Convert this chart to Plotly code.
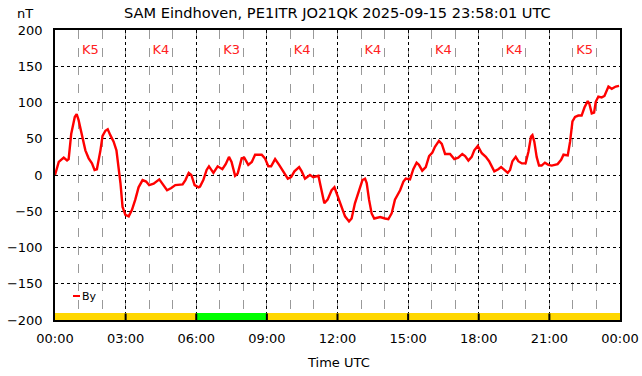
import plotly.graph_objects as go

# Time (hours UTC) and By (nT)
hours = [0.0, 0.16, 0.37, 0.51, 0.58, 0.69, 0.84, 0.92, 1.0, 1.15, 1.29, 1.43, 1.57, 1.68, 1.78, 1.93,
         2.02, 2.14, 2.24, 2.35, 2.49, 2.61, 2.7, 2.78, 2.87, 2.99, 3.13, 3.27, 3.41, 3.55, 3.72, 3.87,
         4.0, 4.19, 4.43, 4.59, 4.76, 4.94, 5.11, 5.42, 5.54, 5.68, 5.79, 5.93, 6.1, 6.16, 6.3, 6.44,
         6.54, 6.73, 6.91, 7.11, 7.25, 7.39, 7.5, 7.65, 7.76, 7.93, 8.04, 8.21, 8.36, 8.5, 8.78, 8.92,
         9.06, 9.18, 9.35, 9.52, 9.7, 9.89, 10.03, 10.17, 10.37, 10.48, 10.62, 10.83, 10.97, 11.19, 11.3,
         11.44, 11.58, 11.75, 11.87, 12.04, 12.18, 12.32, 12.49, 12.6, 12.74, 12.91, 13.06, 13.17, 13.24,
         13.34, 13.45, 13.56, 13.81, 14.02, 14.16, 14.3, 14.44, 14.66, 14.8, 14.9, 15.08, 15.22, 15.36,
         15.46, 15.6, 15.75, 15.89, 16.03, 16.14, 16.31, 16.43, 16.57, 16.78, 16.96, 17.13, 17.3, 17.42,
         17.56, 17.7, 17.81, 17.96, 18.13, 18.3, 18.44, 18.55, 18.66, 18.83, 18.95, 19.09, 19.23, 19.33,
         19.43, 19.57, 19.68, 19.83, 19.99, 20.11, 20.22, 20.28, 20.36, 20.46, 20.56, 20.67, 20.81, 20.96,
         21.1, 21.35, 21.5, 21.6, 21.78, 21.88, 21.98, 22.09, 22.23, 22.37, 22.49, 22.63, 22.7, 22.8, 22.9,
         22.97, 23.08, 23.22, 23.34, 23.51, 23.65, 23.82, 23.96]
by_nt = [0, 18, 24, 20, 22, 57, 80, 84, 76, 53, 34, 23, 16, 7, 8, 34,
         54, 61, 63, 55, 46, 34, 11, -11, -44, -55, -57, -48, -34, -17, -7, -9,
         -14, -12, -6, -14, -21, -18, -14, -13, -7, 3, 0, -14, -17, -16, -7, 7,
         12, 3, 12, 8, 15, 25, 18, -1, 2, 23, 24, 14, 18, 28, 28, 23,
         12, 12, 22, 14, 5, -5, -3, 5, 11, 5, -5, 0, -3, -1, -18,
         -39, -34, -21, -17, -32, -47, -57, -64, -60, -39, -21, -7, -5, -11,
         -34, -53, -60, -58, -60, -61, -53, -34, -21, -9, -5, -6, 8, 17,
         14, 6, 11, 26, 31, 39, 47, 43, 29, 29, 22, 24, 29, 26,
         20, 25, 34, 40, 30, 25, 19, 11, 5, 8, 11, 7, 3, 7,
         19, 25, 19, 16, 16, 32, 53, 55, 46, 25, 13, 13, 17, 14,
         13, 15, 21, 28, 27, 46, 74, 80, 82, 82, 93, 102, 98, 85, 86,
         101, 108, 107, 109, 122, 119, 122, 123]

# K-index per 3-hour block
k_centers = [1.5, 4.5, 7.5, 10.5, 13.5, 16.5, 19.5, 22.5]
k_values = [5, 4, 3, 4, 4, 4, 4, 5]
k_colors = ["#FFD700" if k >= 4 else "#00FF00" for k in k_values]

x_tickvals = [0, 3, 6, 9, 12, 15, 18, 21, 24]
x_ticktext = ["00:00", "03:00", "06:00", "09:00", "12:00", "15:00", "18:00", "21:00", "00:00"]

FONT = "DejaVu Sans"
W, H = 642, 376
L, R, T, B = 55, 22, 30, 56
pw = W - L - R

fig = go.Figure()

# K-index bar along the bottom
fig.add_trace(go.Bar(x=k_centers, y=[9] * len(k_values), base=-200, width=3,
                     marker=dict(color=k_colors, line=dict(width=0)),
                     showlegend=False, hoverinfo="skip"))

# K labels
fig.add_trace(go.Scatter(x=k_centers, y=[172] * len(k_values), mode="text",
                         text=[f"K{k}" for k in k_values],
                         textfont=dict(family=FONT, size=13, color="#FF2020"),
                         showlegend=False, hoverinfo="skip"))

# By line
fig.add_trace(go.Scatter(x=hours, y=by_nt, mode="lines", name="By",
                         line=dict(color="#FF0000", width=2.4), showlegend=False))

shapes = []
for xv in x_tickvals[1:-1]:
    shapes.append(dict(type="line", xref="x", yref="y", x0=xv, x1=xv, y0=-200, y1=-191,
                       line=dict(color="black", width=2), layer="above"))
# legend sample line
shapes.append(dict(type="line", xref="paper", yref="paper",
                   x0=(73 - L) / pw, x1=(80 - L) / pw, y0=(320 - 296) / 290, y1=(320 - 296) / 290,
                   line=dict(color="#FF0000", width=2)))

fig.update_layout(
    width=W, height=H,
    margin=dict(l=L, r=R, t=T, b=B, autoexpand=False),
    paper_bgcolor="white", plot_bgcolor="white",
    font=dict(family=FONT, size=13, color="black"),
    shapes=shapes,
    bargap=0,
    annotations=[
        dict(text="SAM Eindhoven, PE1ITR JO21QK 2025-09-15 23:58:01 UTC", xref="paper", yref="paper",
             x=0.5, y=1 + 18 / 290, xanchor="center", yanchor="middle", showarrow=False,
             font=dict(family=FONT, size=14.6)),
        dict(text="nT", xref="paper", yref="paper", x=(25 - L) / pw, y=1 + 16 / 290,
             xanchor="center", yanchor="middle", showarrow=False, font=dict(family=FONT, size=13)),
        dict(text="Time UTC", xref="paper", yref="paper", x=(338 - L) / pw, y=-(362 - 320) / 290,
             xanchor="center", yanchor="middle", showarrow=False, font=dict(family=FONT, size=13)),
        dict(text="By", xref="paper", yref="paper", x=(80 - L) / pw, y=(320 - 296) / 290,
             xanchor="left", yanchor="middle", showarrow=False, font=dict(family=FONT, size=11)),
    ],
)

fig.update_xaxes(range=[0, 24], tickvals=x_tickvals, ticktext=x_ticktext, ticks="",
                 ticklabelstandoff=6, automargin=False,
                 showline=True, linecolor="black", linewidth=1.5, mirror=True,
                 showgrid=True, gridcolor="black", griddash="dot", gridwidth=1,
                 minor=dict(dtick=1, tick0=0, showgrid=True, gridcolor="#999999", griddash="dash",
                            gridwidth=1),
                 zeroline=False, fixedrange=True)
fig.update_yaxes(range=[-200, 200], dtick=50, tick0=0, ticks="", ticklabelstandoff=8,
                 automargin=False,
                 showline=True, linecolor="black", linewidth=1.5, mirror=True,
                 showgrid=True, gridcolor="black", griddash="dot", gridwidth=1,
                 zeroline=False, fixedrange=True)

fig.write_html("out.html", config={"displayModeBar": False},
               post_script="document.body.style.margin='0';document.body.style.overflow='hidden';")
